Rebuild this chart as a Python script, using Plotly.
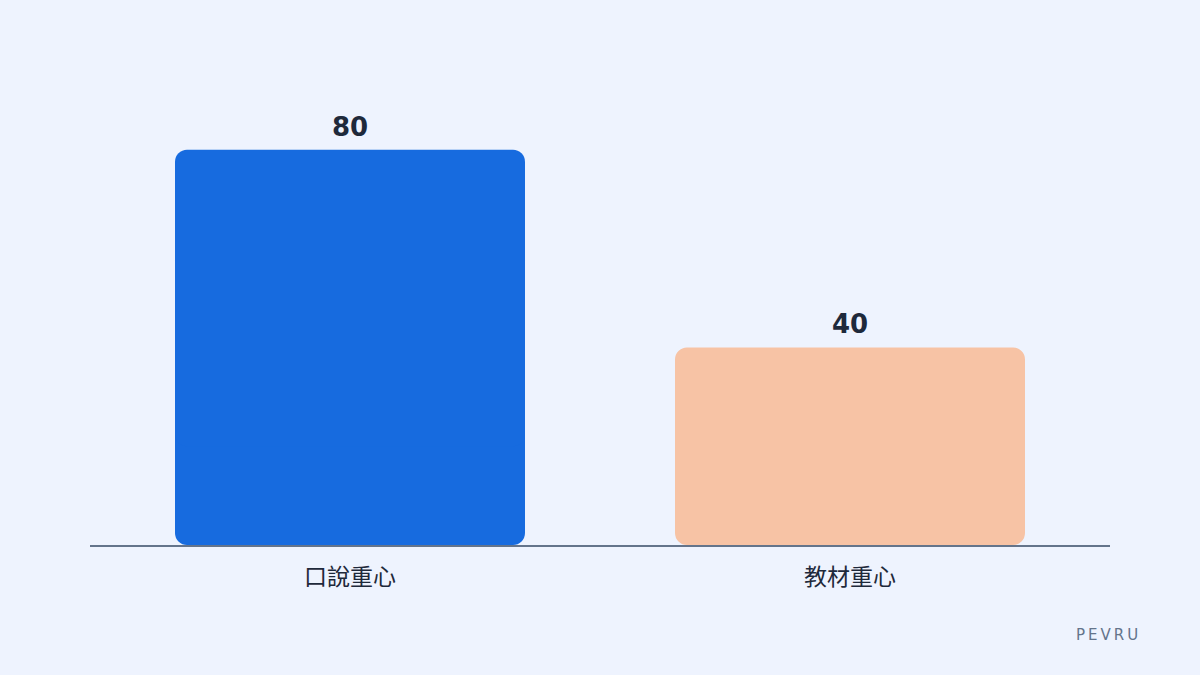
import plotly.graph_objects as go

categories = ["口說重心", "教材重心"]
values = [80, 40]
colors = ["#176BDF", "#F7C3A5"]
value_labels = ["80", "40"]

BG = "#EEF3FE"

fig = go.Figure()
# lower piece: drawn downward so its rounded end sits at the baseline
fig.add_trace(go.Bar(
    x=categories, y=[-0.75 * v for v in values], base=[0.75 * v for v in values],
    marker=dict(color=colors, cornerradius=12, line=dict(width=0)),
    width=0.7, hoverinfo="skip", showlegend=False,
))
# upper piece: rounded top (overlaps the lower piece)
fig.add_trace(go.Bar(
    x=categories, y=[0.75 * v for v in values], base=[0.25 * v for v in values],
    marker=dict(color=colors, cornerradius=12, line=dict(width=0)),
    width=0.7, showlegend=False, hoverinfo="skip",
))

annotations = [
    dict(x=c, y=v, xref="x", yref="y", text=t, showarrow=False,
         yanchor="bottom", yshift=6,
         font=dict(family="DejaVu Sans", size=26, color="#1E293B", weight="bold"))
    for c, v, t in zip(categories, values, value_labels)
]
annotations.append(dict(
    text="P\u2009E\u2009V\u2009R\u2009U",
    xref="paper", yref="paper", x=(1140 - 90) / 1020, y=-(635 - 545) / 494,
    xanchor="right", yanchor="middle", showarrow=False,
    font=dict(family="DejaVu Sans", size=15, color="#64748B"),
))

fig.update_layout(
    width=1200, height=675,
    paper_bgcolor=BG, plot_bgcolor=BG,
    barmode="overlay",
    margin=dict(l=90, r=90, t=51, b=130),
    font=dict(family="Noto Sans CJK JP, Noto Sans, sans-serif"),
    xaxis=dict(
        range=[-0.52, 1.52], showgrid=False, zeroline=False,
        showline=True, linecolor="#64748B", linewidth=2,
        ticks="", ticklabelstandoff=10,
        tickfont=dict(family="Noto Sans CJK TC", size=23, color="#1E293B"),
    ),
    yaxis=dict(range=[0, 100], visible=False, showgrid=False, zeroline=False),
    annotations=annotations,
)

fig.write_html("out.html", config={"displayModeBar": False},
               post_script="document.body.style.margin='0';")
